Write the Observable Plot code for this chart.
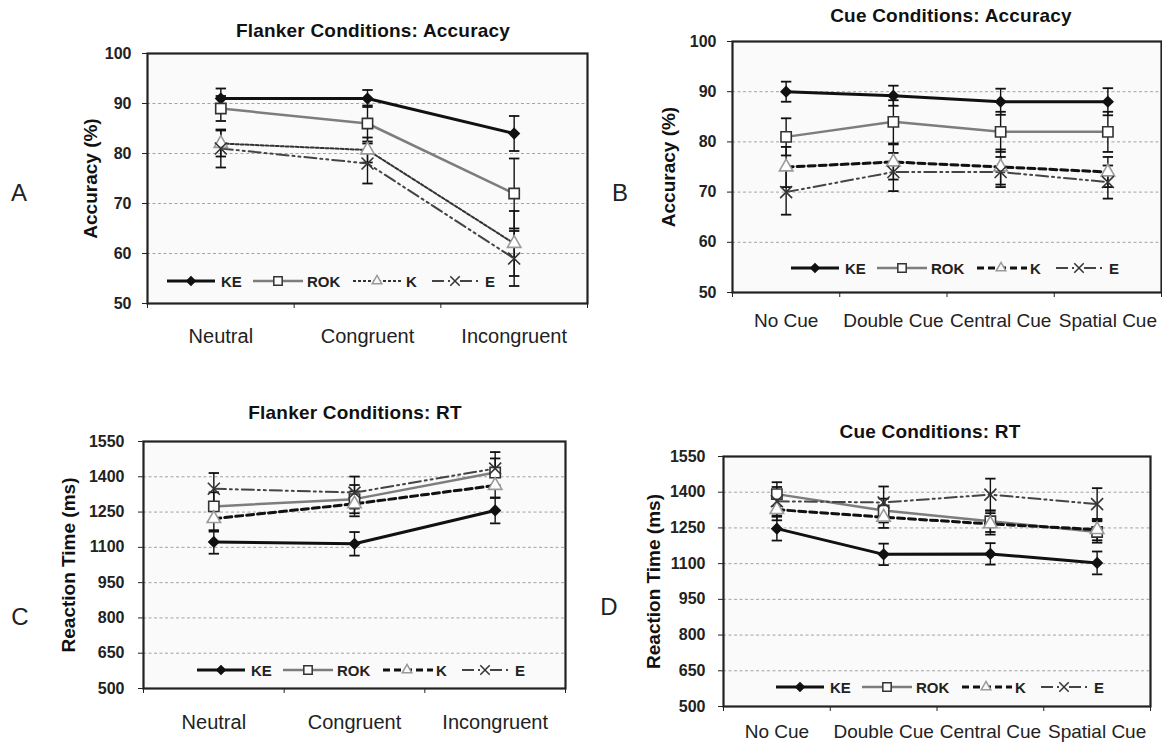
<!DOCTYPE html>
<html><head><meta charset="utf-8">
<script src="https://cdn.jsdelivr.net/npm/d3@7"></script>
<script src="https://cdn.jsdelivr.net/npm/@observablehq/plot@0.6"></script>
<style>
body{margin:0;background:#fff;width:1162px;height:742px;position:relative;overflow:hidden;font-family:"Liberation Sans",Arial,sans-serif;}
.abs{position:absolute;}
.title{position:absolute;font-weight:bold;font-size:19px;transform:translate(-50%,-50%);white-space:nowrap;color:#111;letter-spacing:0.2px;}
.letter{position:absolute;font-size:24px;transform:translate(-50%,-50%);color:#222;}
</style></head><body>
<script>
// ---------- data ----------
const groups = ["KE", "ROK", "K", "E"];
const flankerCats = ["Neutral", "Congruent", "Incongruent"];
const cueCats = ["No Cue", "Double Cue", "Central Cue", "Spatial Cue"];
const accTicks = [50, 60, 70, 80, 90, 100];
const rtTicks = [500, 650, 800, 950, 1100, 1250, 1400, 1550];

// A: Flanker accuracy (%)
const flankerAcc = {KE: [91, 91, 84], ROK: [89, 86, 72], K: [82, 80.7, 62], E: [81, 78, 59]};
const flankerAccErr = {KE: [2, 1.7, 3.5], ROK: [2.5, 3.6, 7], K: [2.6, 2.5, 6.5], E: [3.8, 4, 5.5]};
// B: Cue accuracy (%)
const cueAcc = {KE: [90, 89.2, 88, 88], ROK: [81, 84, 82, 82], K: [75, 76, 75, 74], E: [70, 74, 74, 72]};
const cueAccErr = {KE: [2, 2, 2.6, 2.7], ROK: [3.7, 4.3, 4, 4], K: [4, 3.5, 3.5, 3], E: [4.5, 3.8, 3, 3.3]};
// C: Flanker RT (ms)
const flankerRT = {KE: [1123, 1115, 1257], ROK: [1274, 1305, 1418], K: [1222, 1285, 1363], E: [1349, 1333, 1435]};
const flankerRTErr = {KE: [50, 50, 55], ROK: [60, 60, 60], K: [55, 53, 53], E: [67, 68, 70]};
// D: Cue RT (ms)
const cueRT = {KE: [1247, 1139, 1141, 1103], ROK: [1392, 1323, 1278, 1233], K: [1327, 1295, 1267, 1243], E: [1362, 1357, 1390, 1350]};
const cueRTErr = {KE: [50, 45, 45, 48], ROK: [50, 50, 45, 45], K: [45, 45, 45, 45], E: [60, 67, 67, 67]};

// ---------- styles ----------
const capSymbol = {draw(ctx, size) { const r = Math.sqrt(size / Math.PI); ctx.moveTo(-r, 0); ctx.lineTo(r, 0); }};
function styles(kDotted) {
  return {
    KE: {stroke: "#111", sw: 3, dash: null, symbol: "diamond2", r: 4.5, fill: "#111", ms: "#111", lsym: d3.symbolDiamond2, lsize: 45},
    ROK: {stroke: "#7d7d7d", sw: 2.5, dash: null, symbol: "square", r: 5.8, fill: "#fff", ms: "#333", lsym: d3.symbolSquare, lsize: 70},
    K: kDotted
      ? {stroke: "#333", sw: 2, dash: "3,2", symbol: "triangle", r: 5, fill: "#fff", ms: "#9a9a9a", lsym: d3.symbolTriangle, lsize: 40}
      : {stroke: "#111", sw: 3, dash: "7,4", symbol: "triangle", r: 5, fill: "#fff", ms: "#9a9a9a", lsym: d3.symbolTriangle, lsize: 40},
    E: {stroke: "#444", sw: 2, dash: "12,4,2,4,2,4", symbol: "times", r: 5.5, fill: "none", ms: "#333", lsym: d3.symbolX, lsize: 60}
  };
}

function panel(o) {
  const st = styles(o.kDotted);
  const rows = [];
  for (const g of groups) o.values[g].forEach((v, i) => rows.push({group: g, x: i + 0.5, y: v, lo: v - o.errs[g][i], hi: v + o.errs[g][i]}));
  const n = o.cats.length;
  const marks = [
    Plot.frame({fill: "#fafafa"}),
    Plot.gridY({ticks: o.yTicks.slice(1, -1), stroke: "#9a9a9a", strokeOpacity: 0.9, strokeDasharray: "3,2.5", strokeWidth: 1})
  ];
  for (const g of groups) {
    const d = rows.filter(r => r.group === g);
    marks.push(Plot.ruleX(d, {x: "x", y1: "lo", y2: "hi", stroke: "#111", strokeWidth: 1.4}));
    marks.push(Plot.dot(d, {x: "x", y: "lo", symbol: capSymbol, r: 5.2, stroke: "#111", strokeWidth: 1.8, fill: "none"}));
    marks.push(Plot.dot(d, {x: "x", y: "hi", symbol: capSymbol, r: 5.2, stroke: "#111", strokeWidth: 1.8, fill: "none"}));
  }
  for (const g of groups) {
    const d = rows.filter(r => r.group === g), s = st[g];
    marks.push(Plot.line(d, {x: "x", y: "y", stroke: s.stroke, strokeWidth: s.sw, strokeDasharray: s.dash}));
  }
  for (const g of groups) {
    const d = rows.filter(r => r.group === g), s = st[g];
    marks.push(Plot.dot(d, {x: "x", y: "y", symbol: s.symbol, r: s.r, fill: s.fill, stroke: s.ms, strokeWidth: 1.6}));
  }
  marks.push(
    Plot.frame({stroke: "#222", strokeWidth: 2.2}),
    Plot.axisY({ticks: o.yTicks, tickSize: 5, tickPadding: o.tickPadY, tickFormat: d => String(d), fontSize: 16, fontWeight: "bold", label: null, stroke: "#222", fill: "#222"}),
    Plot.axisX({ticks: d3.range(n + 1), tickSize: 5, tickFormat: () => "", label: null, stroke: "#222"}),
    Plot.axisX({ticks: d3.range(n).map(i => i + 0.5), tickSize: 0, tickPadding: o.tickPadX, tickFormat: t => o.cats[Math.round(t - 0.5)], fontSize: o.catFont, label: null, fill: "#222"}),
    Plot.text([o.yLabel], {frameAnchor: "left", textAnchor: "middle", lineAnchor: "middle", rotate: -90, dx: o.yLabelDx, fontSize: 19, fontWeight: "bold", fill: "#111", style: "letter-spacing:1px"})
  );
  const svg = Plot.plot({
    width: o.width, height: o.height,
    marginLeft: o.m[0], marginRight: o.m[1], marginTop: o.m[2], marginBottom: o.m[3],
    x: {type: "linear", domain: [0, n]},
    y: {domain: [o.yTicks[0], o.yTicks[o.yTicks.length - 1]]},
    style: {fontFamily: "Liberation Sans, Arial, sans-serif", color: "#222", background: "transparent", overflow: "visible"},
    marks
  });
  svg.classList.add("abs");
  svg.style.left = o.left + "px"; svg.style.top = o.top + "px";
  document.body.appendChild(svg);

  // legend (inside plot area)
  const lg = d3.select(document.body).append("svg").attr("class", "abs")
    .style("left", (o.legend[0] - 6) + "px").style("top", (o.legend[1] - 10) + "px")
    .attr("width", 340).attr("height", 20);
  const items = [{g: "KE", l0: 0, l1: 48, m: 24, t: 54}, {g: "ROK", l0: 86, l1: 136, m: 111, t: 140},
                 {g: "K", l0: 186, l1: 236, m: 210, t: 239}, {g: "E", l0: 265, l1: 315, m: 288, t: 318}];
  for (const it of items) {
    const s = st[it.g];
    lg.append("line").attr("x1", it.l0 + 6).attr("x2", it.l1 + 6).attr("y1", 10).attr("y2", 10)
      .attr("stroke", s.stroke).attr("stroke-width", s.sw).attr("stroke-dasharray", s.dash);
    lg.append("path").attr("d", d3.symbol(s.lsym, s.lsize)()).attr("transform", `translate(${it.m + 6},10)`)
      .attr("fill", s.fill === "none" ? "none" : (it.g === "KE" ? "#111" : "#fafafa")).attr("stroke", s.ms).attr("stroke-width", 1.5);
    lg.append("text").attr("x", it.t + 6).attr("y", 15.5).text(it.g)
      .attr("font-size", 15).attr("font-weight", "bold").attr("fill", "#222")
      .attr("font-family", "Liberation Sans, Arial, sans-serif");
  }
}

function label(cls, text, x, y) {
  const d = document.createElement("div");
  d.className = cls; d.textContent = text; d.style.left = x + "px"; d.style.top = y + "px";
  document.body.appendChild(d);
}

panel({cats: flankerCats, values: flankerAcc, errs: flankerAccErr, yTicks: accTicks, yLabel: "Accuracy (%)",
  left: 0, top: 0, width: 600, height: 360, m: [147, 13, 53, 57], kDotted: true,
  tickPadY: 11, tickPadX: 25, catFont: 20, yLabelDx: -57, legend: [167, 281]});
panel({cats: cueCats, values: cueAcc, errs: cueAccErr, yTicks: accTicks, yLabel: "Accuracy (%)",
  left: 600, top: 0, width: 562, height: 360, m: [132, 1, 41, 68], kDotted: false,
  tickPadY: 11, tickPadX: 21, catFont: 19, yLabelDx: -64, legend: [791, 268]});
panel({cats: flankerCats, values: flankerRT, errs: flankerRTErr, yTicks: rtTicks, yLabel: "Reaction Time (ms)",
  left: 0, top: 380, width: 600, height: 362, m: [143, 35, 61, 54], kDotted: false,
  tickPadY: 14, tickPadX: 26, catFont: 20, yLabelDx: -75, legend: [197, 670]});
panel({cats: cueCats, values: cueRT, errs: cueRTErr, yTicks: rtTicks, yLabel: "Reaction Time (ms)",
  left: 600, top: 380, width: 562, height: 362, m: [123, 12, 76, 36], kDotted: false,
  tickPadY: 13, tickPadX: 18, catFont: 19, yLabelDx: -70, legend: [776, 687]});

label("title", "Flanker Conditions: Accuracy", 373, 31);
label("title", "Cue Conditions: Accuracy", 951, 16);
label("title", "Flanker Conditions: RT", 355, 413);
label("title", "Cue Conditions: RT", 930, 432);
label("letter", "A", 19, 193);
label("letter", "B", 620, 193);
label("letter", "C", 20, 617);
label("letter", "D", 609, 607);
</script></body></html>
